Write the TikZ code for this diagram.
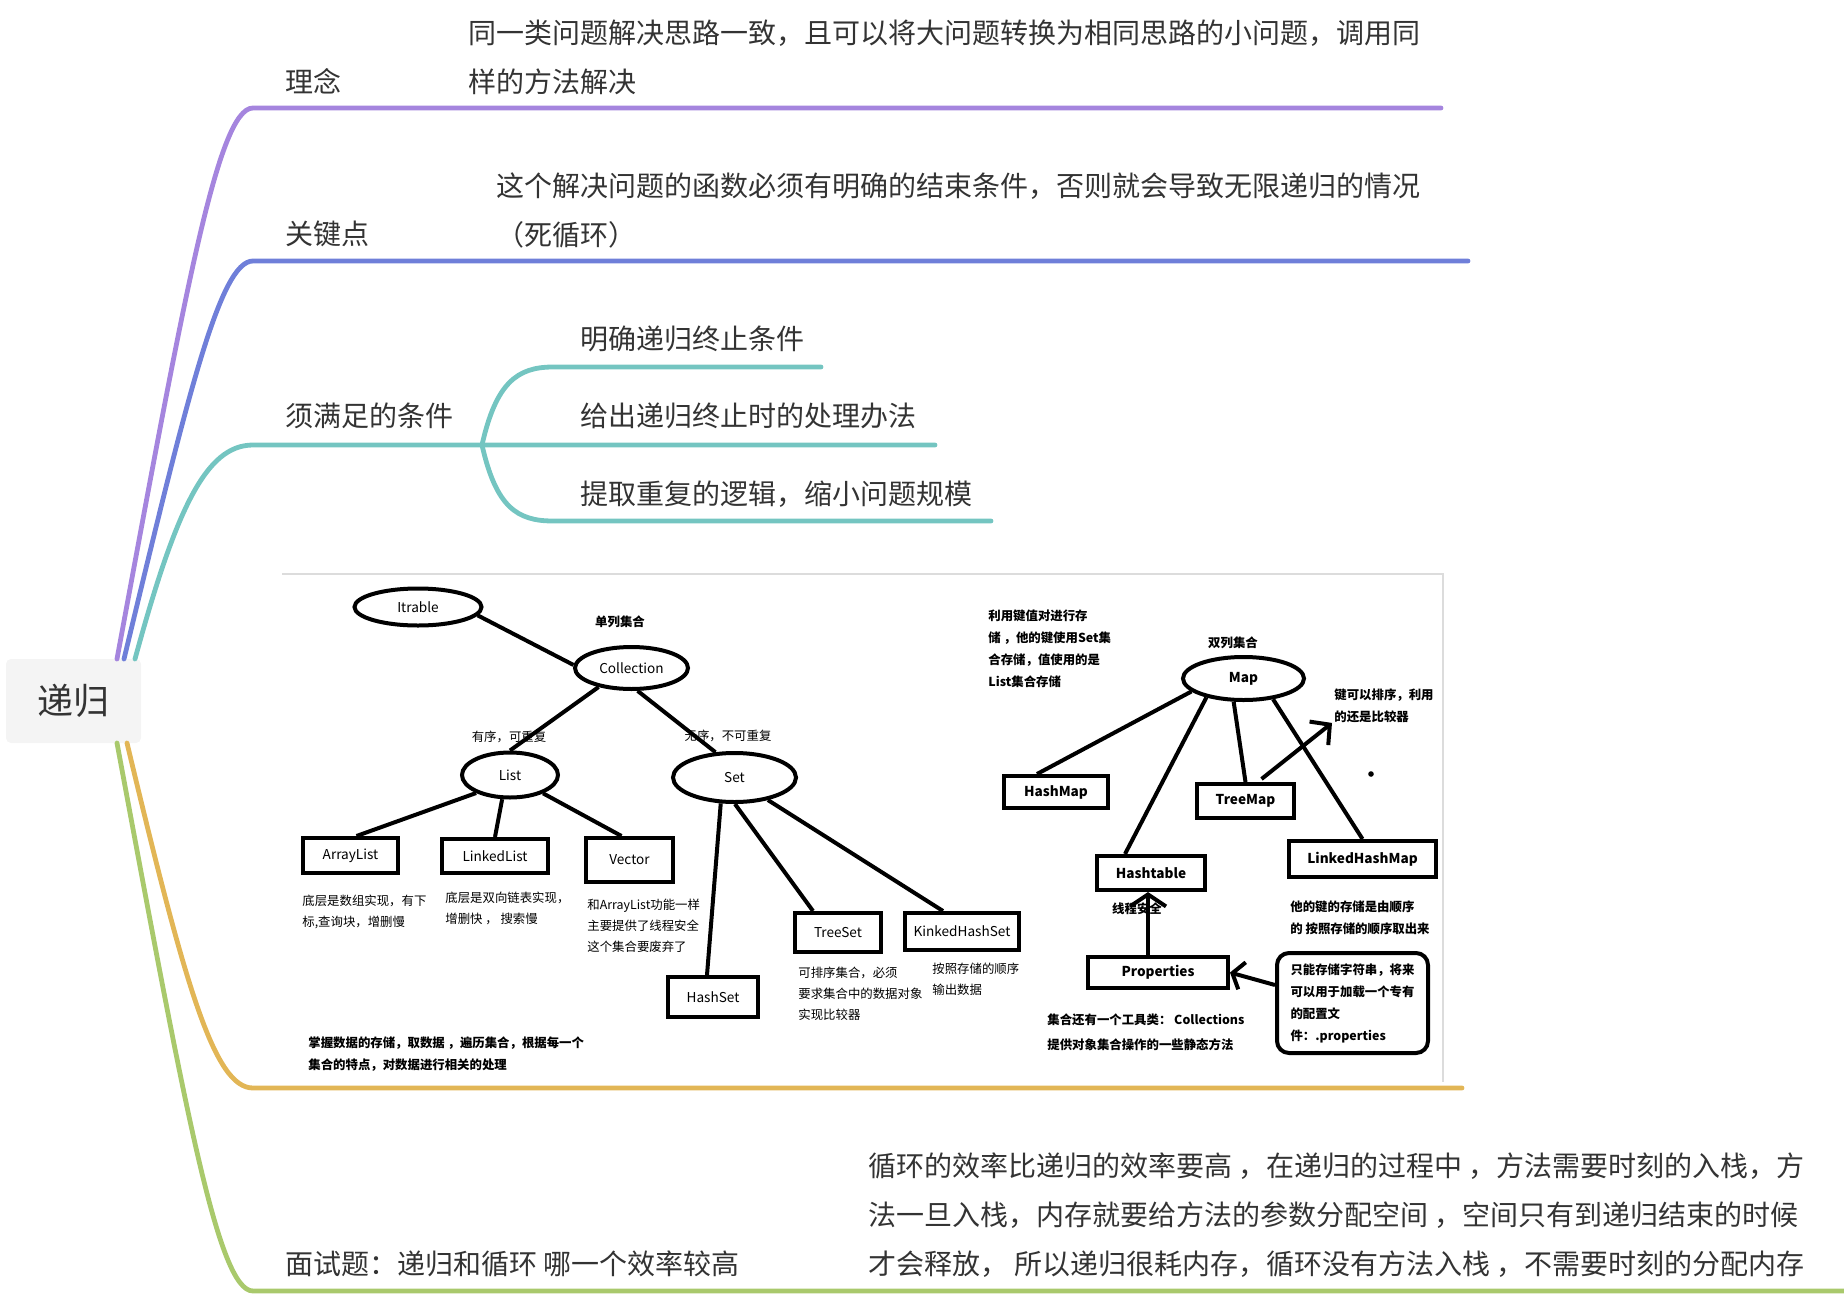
\documentclass[tikz,border=0pt]{standalone}
\usepackage{fontspec}
\setmainfont{Noto Sans CJK SC}
\usetikzlibrary{shapes.geometric,arrows.meta}

\definecolor{lnpurple}{HTML}{A585DE}
\definecolor{lnblue}{HTML}{6F7FD9}
\definecolor{lnteal}{HTML}{74C5C1}
\definecolor{lngold}{HTML}{E2B656}
\definecolor{lngreen}{HTML}{A9C96C}
\definecolor{inkgray}{HTML}{333333}
\definecolor{rootfill}{HTML}{F4F4F4}
\definecolor{edgegray}{HTML}{DCDCDC}

\tikzset{
rootbox/.style={fill=rootfill, rounded corners=2.5pt, minimum width=67.5pt,
    minimum height=42pt, text=inkgray, font=\fontsize{18}{20}\selectfont},
twig/.style={line width=2.4pt, line cap=round},
topic/.style={anchor=west, inner sep=0pt, text=inkgray, align=left,
    font=\fontsize{14}{24.5}\selectfont},
classell/.style={draw, ellipse, line width=2pt, inner sep=0pt,
    font=\fontsize{6.8}{8}\selectfont},
classbox/.style={draw, rectangle, line width=2pt, inner sep=0pt,
    font=\fontsize{6.8}{8}\selectfont},
memo/.style={anchor=west, inner sep=0pt, align=left,
    font=\fontsize{6.2}{10.5}\selectfont},
boldmemo/.style={memo, font=\fontsize{6.2}{11}\selectfont\bfseries},
link/.style={line width=2pt},
barb/.style={-{Straight Barb[length=7pt,width=15pt]}}
}

\begin{document}
\begin{tikzpicture}[x=0.5pt, y=-0.5pt]
\useasboundingbox (0,0) rectangle (1844,1296);

% root and main branches
\node[rootbox] (root) at (73.5,701) {递归};
\coordinate (s1) at (117,659);
\coordinate (s2) at (124,659);
\coordinate (s3) at (135,659);
\coordinate (s4) at (127,743);
\coordinate (s5) at (117,743);
\coordinate (e1) at (253,108);  \coordinate (e1r) at (1441,108);
\coordinate (e2) at (253,261);  \coordinate (e2r) at (1468,261);
\coordinate (e3) at (253,445);  \coordinate (e3r) at (935,445);
\coordinate (e4) at (253,1088); \coordinate (e4r) at (1462,1088);
\coordinate (e5) at (253,1291); \coordinate (e5r) at (1844,1291);
\draw[twig, lnpurple] (s1) .. controls (185,292) and (218,108) .. (e1) -- (e1r);
\draw[twig, lnblue] (s2) .. controls (188,394) and (220,261) .. (e2) -- (e2r);
\draw[twig, lnteal] (s3) .. controls (176,509) and (206,445) .. (e3) -- (e3r);
\draw[twig, lngold] (s4) .. controls (185,985) and (214,1088) .. (e4) -- (e4r);
\draw[twig, lngreen] (s5) .. controls (185,1108) and (218,1291) .. (e5) -- (e5r);

% sub branches of the conditions
\coordinate (hub) at (482,445);
\coordinate (c1l) at (553,367); \coordinate (c1r) at (821,367);
\coordinate (c3l) at (553,521); \coordinate (c3r) at (991,521);
\draw[twig, lnteal] (hub) .. controls (496,383) and (517,367) .. (c1l) -- (c1r);
\draw[twig, lnteal] (hub) .. controls (496,507) and (517,521) .. (c3l) -- (c3r);

% topics
\node[topic] (idea) at (285,81) {理念};
\node[topic] (ideatxt) at (468,57.5) {同一类问题解决思路一致，且可以将大问题转换为相同思路的小问题，调用同\\样的方法解决};
\node[topic] (key) at (285,234) {关键点};
\node[topic] (keytxt) at (496,210.5) {这个解决问题的函数必须有明确的结束条件，否则就会导致无限递归的情况\\（死循环）};
\node[topic] (cond) at (285,416) {须满足的条件};
\node[topic] (cond1) at (580,339) {明确递归终止条件};
\node[topic] (cond2) at (580,416) {给出递归终止时的处理办法};
\node[topic] (cond3) at (580,494) {提取重复的逻辑，缩小问题规模};
\node[topic] (quiz) at (285,1264) {面试题：递归和循环 哪一个效率较高};
\node[topic] (quiztxt) at (868,1215) {循环的效率比递归的效率要高 ，在递归的过程中 ，方法需要时刻的入栈，方\\法一旦入栈，内存就要给方法的参数分配空间 ，空间只有到递归结束的时候\\才会释放， 所以递归很耗内存，循环没有方法入栈 ，不需要时刻的分配内存};

% collection picture
\draw[edgegray, line width=0.6pt] (282,574) -- (1443,574) -- (1443,1082);

\node[classell, minimum width=63.5pt, minimum height=18.5pt] (itrable) at (418,607) {Itrable};
\node[classell, minimum width=56.5pt, minimum height=21pt] (coll) at (631.5,668) {Collection};
\node[classell, minimum width=48pt, minimum height=22.5pt] (list) at (510,775) {List};
\node[classell, minimum width=61.5pt, minimum height=24.5pt] (set) at (734.5,777.5) {Set};
\node[classbox, minimum width=47.5pt, minimum height=17.5pt] (arraylist) at (350.5,855.5) {ArrayList};
\node[classbox, minimum width=53pt, minimum height=17pt] (linkedlist) at (495,856) {LinkedList};
\node[classbox, minimum width=43.5pt, minimum height=22pt] (vector) at (629.5,860) {Vector};
\node[classbox, minimum width=45pt, minimum height=20pt] (hashset) at (713,997) {HashSet};
\node[classbox, minimum width=43pt, minimum height=19.5pt] (treeset) at (838,932.5) {TreeSet};
\node[classbox, minimum width=57pt, minimum height=18.5pt] (kinked) at (962,931.5) {KinkedHashSet};

\node[boldmemo, anchor=center] (single) at (620,622) {单列集合};
\node[memo, anchor=center] (ordered) at (509,737) {有序，可重复};
\node[memo, anchor=center] (unordered) at (728,736) {无序，不可重复};
\node[memo] (alnote) at (302,912) {底层是数组实现，有下\\标,查询块，增删慢};
\node[memo] (llnote) at (445,908) {底层是双向链表实现，\\增删快 ， 搜索慢};
\node[memo] (vecnote) at (587,926) {和ArrayList功能一样\\主要提供了线程安全\\这个集合要废弃了};
\node[memo] (tsnote) at (798,993.5) {可排序集合，必须\\要求集合中的数据对象\\实现比较器};
\node[memo] (khsnote) at (932,979) {按照存储的顺序\\输出数据};
\node[boldmemo] (usage) at (308,1054) {掌握数据的存储，取数据 ，遍历集合，根据每一个\\集合的特点，对数据进行相关的处理};

\draw[link] (itrable.-8) -- (coll.177);
\draw[link] (coll.210) -- (list.90);
\draw[link] (coll.-75) -- (set.127);
\draw[link] (list.208) -- ([xshift=3pt]arraylist.north);
\draw[link] (list.252) -- (linkedlist.north);
\draw[link] (list.-29) -- ([xshift=-4pt]vector.north);
\draw[link] (set.242) -- ([xshift=-3pt]hashset.north);
\draw[link] (set.-89) -- ([xshift=-12.5pt]treeset.north);
\draw[link] (set.-34) -- ([xshift=-9.5pt]kinked.north);

% map picture
\node[classell, minimum width=60.5pt, minimum height=21.5pt, font=\fontsize{6.8}{8}\selectfont\bfseries] (map) at (1243.5,678.5) {Map};
\node[classbox, minimum width=52pt, minimum height=16pt, font=\fontsize{6.8}{8}\selectfont\bfseries] (hashmap) at (1056,792) {HashMap};
\node[classbox, minimum width=48.5pt, minimum height=17pt, font=\fontsize{6.8}{8}\selectfont\bfseries] (treemap) at (1245.5,801) {TreeMap};
\node[classbox, minimum width=73.5pt, minimum height=18pt, font=\fontsize{6.8}{8}\selectfont\bfseries] (lhmap) at (1362.5,859) {LinkedHashMap};
\node[classbox, minimum width=54pt, minimum height=17pt, font=\fontsize{6.8}{8}\selectfont\bfseries] (hashtable) at (1151,873) {Hashtable};
\node[classbox, minimum width=70pt, minimum height=15.5pt, font=\fontsize{6.8}{8}\selectfont\bfseries] (props) at (1158,972.5) {Properties};
\node[draw, rounded corners=6pt, line width=2pt, minimum width=75.5pt, minimum height=50pt,
    text width=62pt, inner xsep=6pt, align=left, font=\fontsize{6.2}{11}\selectfont\bfseries] (cfg) at (1352.5,1003)
    {只能存储字符串，将来\\可以用于加载一个专有\\的配置文\\件：.properties};

\node[boldmemo] (mapnote) at (988,649) {利用键值对进行存\\储 ，他的键使用Set集\\合存储，值使用的是\\List集合存储};
\node[boldmemo, anchor=center] (double) at (1233,643) {双列集合};
\node[boldmemo] (keynote) at (1334,705.5) {键可以排序，利用\\的还是比较器};
\node[boldmemo] (lhmnote) at (1290,917.5) {他的键的存储是由顺序\\的 按照存储的顺序取出来};
\node[boldmemo, anchor=center] (safe) at (1137,909) {线程安全};
\node[boldmemo, font=\fontsize{6.2}{12.5}\selectfont\bfseries] (tools) at (1047,1032.5) {集合还有一个工具类： Collections\\提供对象集合操作的一些静态方法};
\fill (1371,774) circle[radius=1.4pt];

\draw[link] (map.194) -- ([xshift=-9.5pt]hashmap.north);
\draw[link] (map.207) -- ([xshift=-13pt]hashtable.north);
\draw[link] (map.247) -- (treemap.north);
\draw[link] (map.-35) -- (lhmap.north);
\draw[link, barb] ([xshift=8pt,yshift=1.5pt]treemap.north) -- ([xshift=-1pt]keynote.south west);
\draw[link, -{Straight Barb[length=6pt,width=18pt]}] ([xshift=-5pt]props.north) -- ([xshift=-1.5pt]hashtable.south);
\draw[link, -{Straight Barb[length=5pt,width=14pt]}] ([yshift=9pt]cfg.west) -- (props.east);
\end{tikzpicture}
\end{document}
